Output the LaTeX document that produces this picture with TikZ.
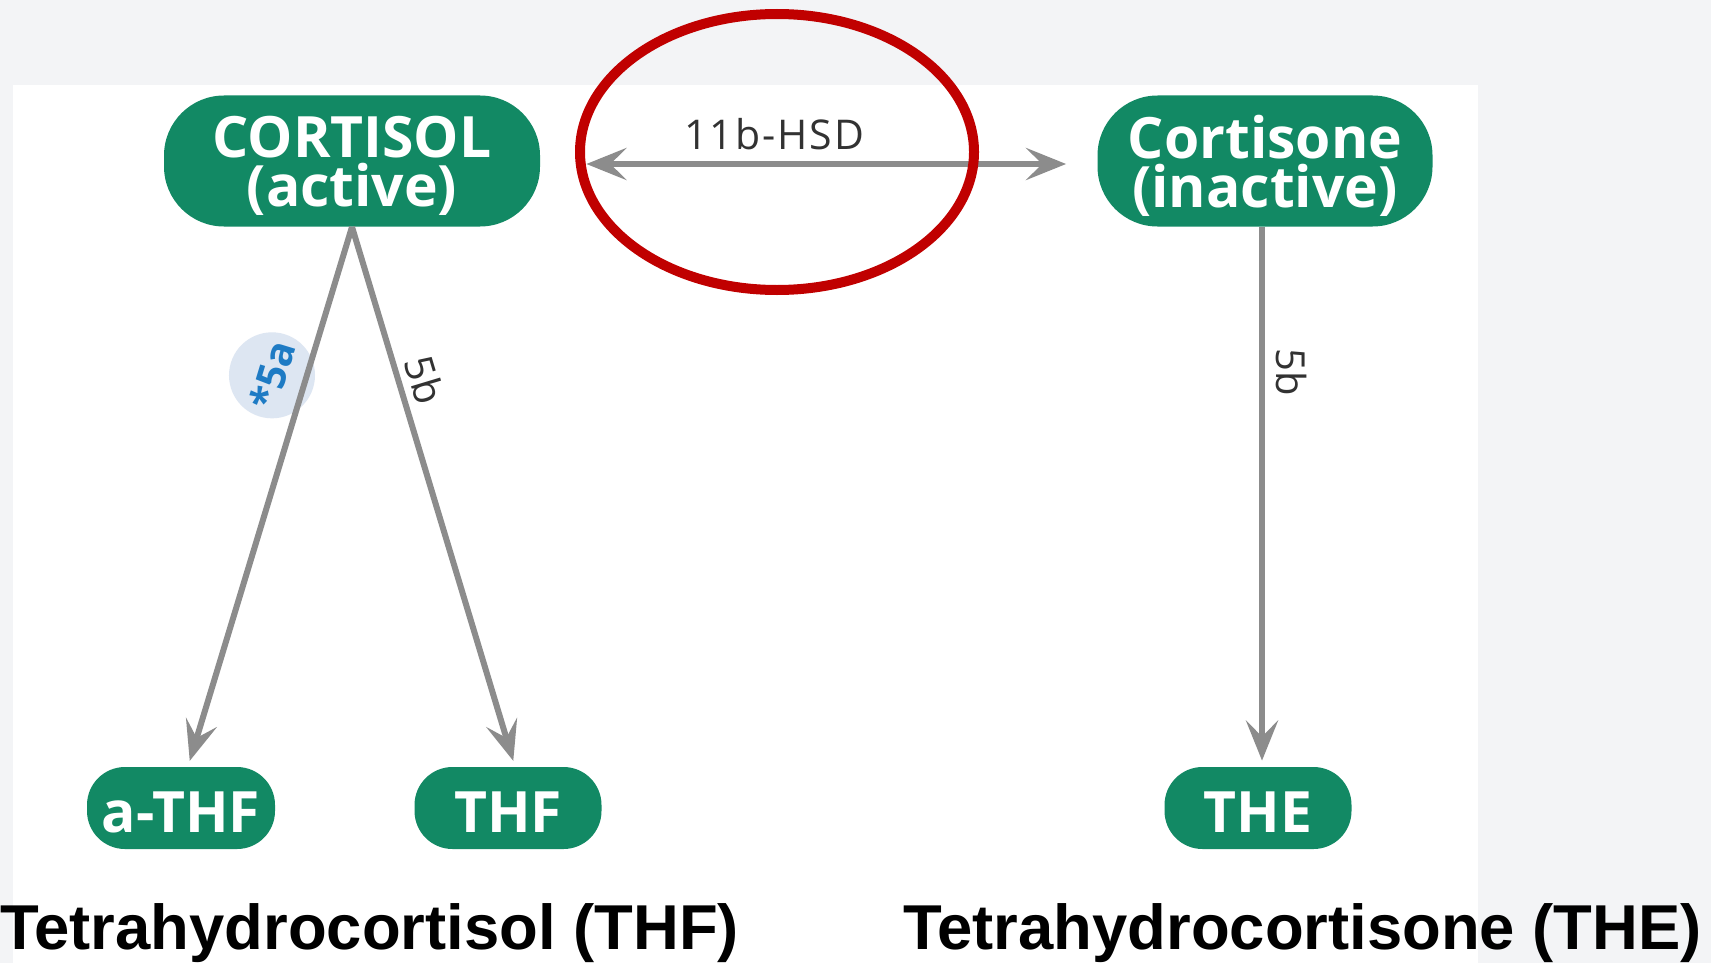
\documentclass[tikz,border=0pt]{standalone}
\usepackage{fontspec}
\setmainfont{Open Sans}
\newfontfamily\capfont{Liberation Sans}
\newfontfamily\spacedfont[LetterSpace=5]{Open Sans}
\usetikzlibrary{arrows.meta,shapes.geometric}
\definecolor{pillgreen}{RGB}{18,137,100}
\definecolor{conngray}{RGB}{140,140,140}
\definecolor{bggray}{RGB}{243,244,246}
\definecolor{hlred}{RGB}{192,0,0}
\definecolor{labelblue}{RGB}{30,123,196}
\definecolor{labelbg}{RGB}{221,230,242}
\definecolor{labeltext}{RGB}{50,50,50}
\begin{document}
\begin{tikzpicture}[x=0.5pt,y=-0.5pt,
  pill/.style={fill=pillgreen, text=white, rounded corners=#1, inner sep=0pt, align=center,
    font=\bfseries\fontsize{28.5}{24.5}\selectfont},
  bigpill/.style={pill=30pt, minimum height=65.5pt, text depth=-1.5pt},
  smallpill/.style={pill=19pt, minimum height=41pt, text height=24.5pt, text depth=0pt},
  tiphead/.tip={Stealth[length=20pt,width=16pt,inset=8pt]},
  conn/.style={draw=conngray, line width=3pt, -tiphead},
  hsdlabel/.style={font=\spacedfont\fontsize{20.5}{24}\selectfont, text=labeltext, inner sep=0pt},
  enzlabel/.style={font=\fontsize{20}{24}\selectfont, text=labeltext, inner sep=1.5pt},
  alphalabel/.style={circle, fill=labelbg, minimum size=43pt, inner sep=0pt, text=labelblue,
    font=\bfseries\fontsize{20}{22}\selectfont},
  capt/.style={font=\capfont\bfseries\fontsize{31.7}{36}\selectfont, inner sep=0pt, anchor=base west},
  highlight/.style={draw=hlred, line width=5pt, ellipse, inner sep=0pt}
]
\useasboundingbox (0,0) rectangle (1711,963);
\fill[bggray] (0,0) rectangle (1711,963);
\fill[white] (13,85) rectangle (1478,963);

% nodes
\node[bigpill, minimum width=188pt] (cort) at (352,161) {CORTISOL\\(active)};
\node[bigpill, minimum width=167.5pt] (cne) at (1265,161) {Cortisone\\(inactive)};
\node[smallpill, minimum width=94pt] (athf) at (181,808) {a-THF};
\node[smallpill, minimum width=93.5pt] (thf) at (508,808) {THF};
\node[smallpill, minimum width=93.5pt] (the) at (1258,808) {THE};

% connectors
\draw[conn, tiphead-tiphead, shorten <=23pt, shorten >=15.5pt]
  ([yshift=-1.5pt]cort.east) -- ([yshift=-1.5pt]cne.west)
  node[pos=0.42, anchor=base, yshift=7.5pt, hsdlabel] (hsd) {11b-HSD};

\path (cort.south) -- ([xshift=3.5pt]athf.north)
  node[pos=0.293, sloped, above=-5pt, alphalabel] (l5a) {*5a};
\draw[conn, shorten >=3pt] (cort.south) -- ([xshift=3.5pt]athf.north);

\draw[conn, shorten >=3pt] (cort.south) -- ([xshift=3.5pt]thf.north)
  node[pos=0.297, sloped, above=2pt, enzlabel] (l5b) {5b};

\draw[conn, shorten >=3pt] ([xshift=-1.5pt]cne.south) -- ([xshift=2pt]the.north)
  node[pos=0.27, sloped, above=4pt, enzlabel] (r5b) {5b};

% captions
\node[capt] (cap1) at (0,949) {Tetrahydrocortisol (THF)};
\node[capt] (cap2) at (903,949) {Tetrahydrocortisone (THE)};

% highlight ellipse
\node[highlight, minimum width=197pt, minimum height=138pt] (hl) at (777,152) {};
\end{tikzpicture}
\end{document}
